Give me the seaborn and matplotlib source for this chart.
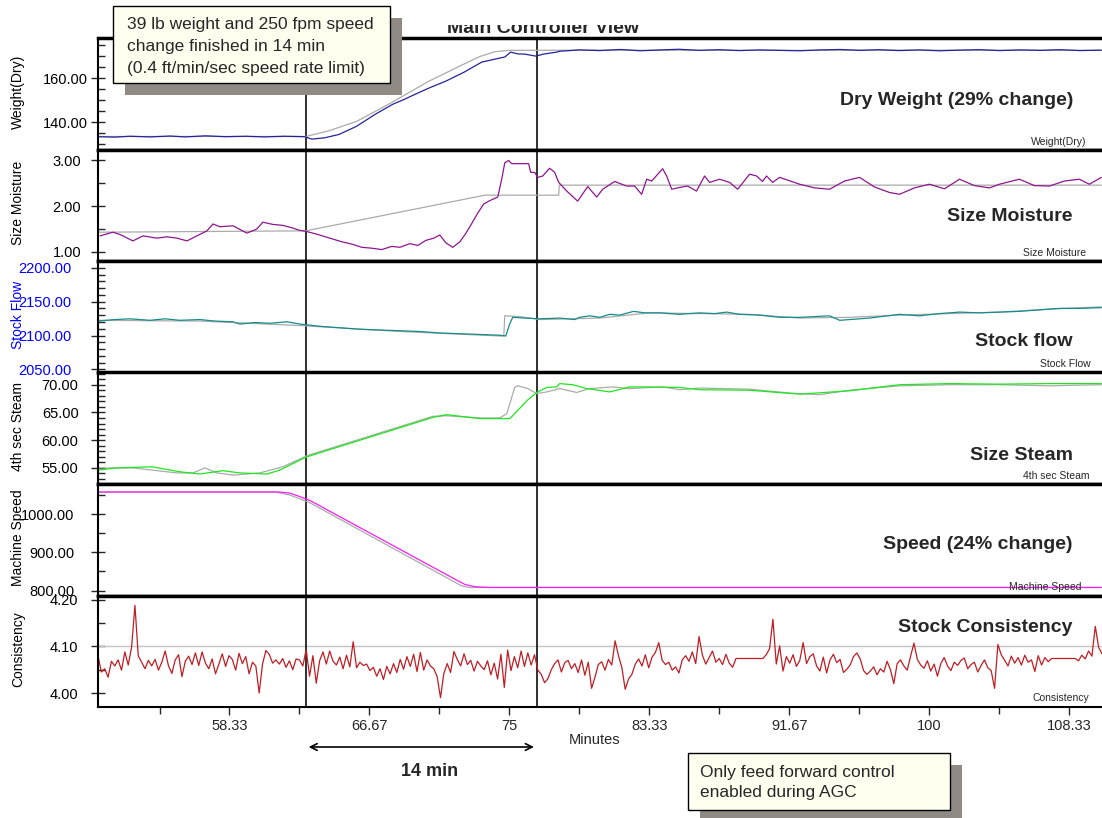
import numpy as np
import matplotlib
matplotlib.use("Agg")
import matplotlib.pyplot as plt
from matplotlib.patches import Rectangle
from matplotlib.ticker import FormatStrFormatter
from matplotlib.transforms import blended_transform_factory
import seaborn as sns

sns.set_style("white")
plt.rcParams['font.family'] = ['Liberation Sans', 'DejaVu Sans']

# ---------------- data (time in minutes) ----------------
weight_t = [50.5, 51.5, 52.4, 53.6, 54.8, 55.7, 56.9, 58.1, 59.3, 60.4, 61.6, 62.8, 63.24, 64.0,
            64.85, 65.9, 67.0, 68.06, 68.77, 69.13, 70.2, 71.2, 72.3, 73.36, 74.43, 74.73, 75.08,
            75.5, 75.92, 76.57, 77.1, 77.82, 78.0, 79.2, 80.4, 81.6, 82.8, 84.0, 85.1, 86.3, 87.5,
            88.7, 89.9, 91.1, 92.3, 93.5, 94.7, 95.9, 97.0, 98.2, 99.4, 100.6, 101.8, 103.0, 104.2,
            105.4, 106.6, 107.8, 109.0, 110.26]
weight_v = [133.5, 133.3, 133.7, 133.4, 133.8, 133.4, 133.9, 133.5, 133.7, 133.4, 133.7, 133.5, 132.4, 133.0,
            134.5, 138.2, 143.6, 148.2, 150.5, 151.8, 155.5, 158.6, 162.7, 167.3, 169.1, 169.6, 171.8,
            171.0, 170.9, 170.0, 171.0, 171.8, 172.2, 172.8, 172.5, 173.0, 172.4, 172.8, 173.1, 172.6, 172.9,
            172.5, 172.8, 172.6, 172.4, 172.8, 173.0, 172.6, 172.9, 172.5, 172.8, 172.4, 172.7, 172.9, 172.5,
            172.8, 172.6, 172.9, 172.5, 172.7]
weight_sp_t = [50.5, 62.88, 64.31, 65.92, 67.88, 70.2, 72.05, 73.24, 74.13, 75.02, 80.0, 90.0, 100.0, 110.26]
weight_sp_v = [133.6, 133.6, 136.3, 140.5, 148.5, 158.6, 165.5, 169.8, 172.0, 172.6, 172.7, 172.6, 172.7, 172.6]

moist_t = [50.62, 51.39, 51.81, 52.58, 53.18, 54.01, 54.61, 55.2, 55.8, 56.39, 56.99, 57.35, 57.76, 58.54,
           59.37, 59.96, 60.32, 60.92, 61.51, 62.11, 62.52, 62.88, 63.6, 64.31, 65.02, 65.62, 66.21, 66.81,
           67.4, 68.0, 68.48, 69.07, 69.55, 70.02, 70.5, 70.86, 71.21, 71.63, 72.05, 72.4, 72.76, 73.12,
           73.48, 73.83, 74.31, 74.55, 74.73, 74.96, 75.14, 76.15, 76.27, 76.51, 76.69, 76.99, 77.40, 77.70,
           77.94, 78.42, 79.07, 79.67, 80.20, 80.56, 81.27, 81.99, 82.46, 82.88, 83.18, 83.48, 84.13, 84.37,
           84.67, 85.14, 85.62, 86.15, 86.63, 86.93, 87.52, 88.12, 88.60, 89.31, 89.73, 90.08, 90.32, 90.68,
           91.10, 92.29, 93.18, 94.07, 94.96, 95.86, 96.75, 97.64, 98.24, 99.13, 100.02, 100.92, 101.81,
           102.70, 103.60, 104.19, 105.38, 106.27, 107.17, 108.06, 108.95, 109.55, 110.26]
moist_v = [1.35, 1.43, 1.38, 1.24, 1.35, 1.30, 1.33, 1.30, 1.24, 1.35, 1.46, 1.61, 1.55, 1.57,
           1.41, 1.50, 1.65, 1.60, 1.58, 1.52, 1.47, 1.45, 1.38, 1.30, 1.22, 1.17, 1.10, 1.08,
           1.05, 1.12, 1.10, 1.18, 1.14, 1.25, 1.30, 1.37, 1.20, 1.10, 1.22, 1.40, 1.62, 1.85,
           2.05, 2.12, 2.20, 2.60, 2.95, 3.00, 2.93, 2.93, 2.74, 2.74, 2.63, 2.66, 2.83, 2.74,
           2.52, 2.33, 2.11, 2.43, 2.20, 2.37, 2.54, 2.44, 2.44, 2.26, 2.59, 2.55, 2.82, 2.66,
           2.37, 2.41, 2.44, 2.33, 2.66, 2.52, 2.59, 2.52, 2.37, 2.70, 2.66, 2.54, 2.66, 2.52,
           2.63, 2.48, 2.40, 2.37, 2.55, 2.63, 2.42, 2.30, 2.26, 2.40, 2.48, 2.38, 2.59,
           2.45, 2.40, 2.48, 2.59, 2.45, 2.44, 2.55, 2.59, 2.48, 2.63]
moist_sp_t = [50.5, 62.88, 73.54, 77.94, 77.97, 110.26]
moist_sp_v = [1.43, 1.46, 2.24, 2.24, 2.46, 2.46]

flow_t = [50.5, 51.51, 52.4, 53.6, 54.49, 55.38, 56.57, 57.46, 58.54, 58.95, 59.85, 60.74, 61.75, 62.52,
          63.71, 64.9, 66.1, 67.29, 68.48, 69.67, 70.86, 72.05, 73.24, 74.43, 74.79, 75.02, 75.2, 75.92,
          76.81, 78.0, 78.89, 79.19, 79.79, 80.38, 80.98, 81.57, 82.4, 83.06, 83.95, 85.14, 86.33, 87.23,
          87.94, 88.71, 89.9, 91.1, 92.29, 94.07, 94.67, 96.45, 98.24, 99.43, 100.62, 101.81, 103.0,
          104.19, 105.38, 106.57, 107.76, 108.95, 110.26]
flow_v = [2121.4, 2123.6, 2124.7, 2122.5, 2124.7, 2122.5, 2123.6, 2121.4, 2120.3, 2117.0, 2119.2, 2118.1, 2120.3, 2117.0,
          2113.7, 2111.5, 2109.3, 2108.2, 2107.1, 2106.0, 2103.8, 2102.7, 2101.6, 2100.5, 2099.4, 2117.0, 2126.9, 2125.8,
          2124.7, 2125.8, 2123.6, 2126.9, 2129.1, 2126.9, 2131.3, 2130.2, 2135.7, 2133.5, 2133.5, 2131.3, 2133.5, 2132.4,
          2134.6, 2131.3, 2130.2, 2126.9, 2126.9, 2129.1, 2122.5, 2125.8, 2131.3, 2129.1, 2132.4, 2134.6, 2133.5,
          2134.6, 2135.7, 2137.9, 2140.1, 2140.1, 2141.2]
flow_sp_t = [50.5, 56.57, 62.52, 68.48, 74.43, 74.67, 74.73, 75.62, 76.81, 80.38, 83.36, 86.33, 89.31,
             92.29, 95.26, 98.24, 101.21, 104.19, 107.17, 110.26]
flow_sp_v = [2122.5, 2121.4, 2114.8, 2106.0, 2099.4, 2099.4, 2129.1, 2128.0, 2123.6, 2125.8, 2133.5, 2132.4, 2131.3,
             2125.8, 2126.9, 2130.2, 2132.4, 2134.6, 2139.0, 2142.3]

steam_t = [50.5, 51.63, 53.71, 55.38, 56.57, 57.94, 58.95, 60.56, 61.33, 62.52, 62.94, 70.44, 71.27,
           73.24, 75.02, 75.2, 76.04, 76.63, 77.23, 77.82, 78.0, 78.77, 79.61, 80.98, 82.17, 83.18,
           85.14, 86.33, 89.31, 92.29, 95.26, 98.24, 101.21, 104.19, 107.17, 110.26]
steam_v = [54.6, 55.0, 55.2, 54.3, 53.9, 54.5, 54.1, 53.9, 54.6, 56.4, 57.0, 64.1, 64.6,
           63.9, 63.9, 64.4, 67.1, 68.6, 69.5, 69.6, 70.2, 70.0, 69.3, 68.7, 69.6, 69.6,
           69.5, 69.1, 69.0, 68.3, 68.9, 70.0, 70.2, 70.1, 70.2, 70.2]
steam_sp_t = [50.5, 52.58, 55.2, 56.15, 56.87, 57.58, 58.54, 60.14, 61.51, 62.52, 62.94, 70.44, 71.27,
              73.24, 74.43, 74.85, 75.32, 75.5, 76.1, 76.63, 77.23, 78.0, 79.01, 79.79, 81.15, 82.17,
              84.13, 85.14, 86.33, 89.31, 91.69, 93.48, 95.26, 98.24, 101.21, 104.19, 107.17, 110.26]
steam_sp_v = [55.0, 55.0, 54.1, 54.1, 55.0, 54.1, 53.7, 54.1, 55.2, 56.6, 57.2, 64.3, 64.4,
              64.0, 64.0, 64.8, 69.5, 69.8, 69.3, 68.4, 68.7, 69.3, 68.6, 69.3, 69.6, 69.3,
              69.6, 69.1, 69.4, 69.2, 68.5, 68.2, 69.0, 69.8, 70.0, 70.0, 69.8, 70.0]

speed_t = [50.5, 61.33, 61.93, 62.52, 63.12, 71.75, 72.35, 72.94, 73.83, 110.26]
speed_v = [1058, 1058, 1055, 1046, 1036, 830, 816, 810, 808, 808]
speed_sp_t = [50.5, 61.04, 61.93, 62.52, 63.12, 71.75, 72.17, 72.64, 110.26]
speed_sp_v = [1058, 1058, 1050, 1040, 1030, 822, 812, 808, 808]

# consistency is logged every 12 s from 50.5 min
cons_v = [
    4.080, 4.045, 4.052, 4.034, 4.068, 4.058, 4.071, 4.049, 4.088, 4.060, 4.098, 4.188, 4.079, 4.066, 4.052, 4.070, 4.058, 4.072, 4.049, 4.066,
    4.090, 4.058, 4.042, 4.071, 4.082, 4.035, 4.068, 4.079, 4.061, 4.086, 4.059, 4.088, 4.064, 4.052, 4.073, 4.041, 4.062, 4.084, 4.057, 4.080,
    4.072, 4.049, 4.085, 4.063, 4.078, 4.041, 4.066, 4.058, 4.000, 4.062, 4.091, 4.083, 4.064, 4.071, 4.062, 4.074, 4.055, 4.069, 4.050, 4.073,
    4.071, 4.058, 4.093, 4.036, 4.080, 4.021, 4.069, 4.088, 4.062, 4.090, 4.068, 4.060, 4.077, 4.052, 4.081, 4.056, 4.110, 4.054, 4.066, 4.059,
    4.062, 4.048, 4.055, 4.036, 4.052, 4.029, 4.057, 4.041, 4.063, 4.044, 4.072, 4.051, 4.078, 4.057, 4.083, 4.046, 4.087, 4.049, 4.071, 4.058,
    4.052, 4.035, 3.990, 4.042, 4.063, 4.044, 4.089, 4.072, 4.058, 4.084, 4.061, 4.070, 4.047, 4.068, 4.058, 4.050, 4.069, 4.039, 4.064, 4.030,
    4.083, 4.012, 4.092, 4.048, 4.078, 4.054, 4.090, 4.057, 4.086, 4.060, 4.082, 4.049, 4.040, 4.022, 4.031, 4.050, 4.063, 4.071, 4.045, 4.065,
    4.070, 4.052, 4.063, 4.044, 4.071, 4.038, 4.066, 4.010, 4.034, 4.061, 4.067, 4.049, 4.072, 4.060, 4.112, 4.080, 4.055, 4.008, 4.030, 4.040,
    4.062, 4.073, 4.058, 4.082, 4.054, 4.077, 4.087, 4.108, 4.070, 4.061, 4.066, 4.049, 4.056, 4.043, 4.071, 4.080, 4.068, 4.088, 4.063, 4.121,
    4.081, 4.062, 4.076, 4.090, 4.066, 4.074, 4.061, 4.083, 4.064, 4.055, 4.074, 4.074, 4.074, 4.074, 4.074, 4.074, 4.074, 4.074, 4.074, 4.082,
    4.095, 4.158, 4.062, 4.101, 4.047, 4.078, 4.064, 4.082, 4.057, 4.070, 4.108, 4.063, 4.078, 4.084, 4.058, 4.047, 4.077, 4.043, 4.071, 4.083,
    4.065, 4.072, 4.044, 4.051, 4.060, 4.078, 4.086, 4.073, 4.048, 4.040, 4.047, 4.056, 4.039, 4.052, 4.045, 4.068, 4.050, 4.020, 4.063, 4.071,
    4.058, 4.049, 4.079, 4.107, 4.072, 4.060, 4.053, 4.069, 4.047, 4.062, 4.036, 4.063, 4.076, 4.058, 4.048, 4.066, 4.059, 4.070, 4.075, 4.052,
    4.061, 4.066, 4.045, 4.059, 4.071, 4.054, 4.048, 4.010, 4.104, 4.082, 4.070, 4.058, 4.079, 4.064, 4.076, 4.060, 4.081, 4.066, 4.071, 4.046,
    4.080, 4.060, 4.076, 4.067, 4.074, 4.074, 4.074, 4.074, 4.074, 4.074, 4.074, 4.074, 4.069, 4.081, 4.073, 4.090, 4.079, 4.143, 4.098, 4.084,
]
cons_t = np.round(50.5 + 0.2 * np.arange(len(cons_v)), 2)
cons_target = 4.10

agc_start, agc_end = 62.88, 76.63

x_major = [58.33, 66.67, 75, 83.33, 91.67, 100, 108.33]
x_labels = ["58.33", "66.67", "75", "83.33", "91.67", "100", "108.33"]
x_minor = [54.17, 62.5, 70.83, 79.17, 87.5, 95.83, 104.17]

GRAY = "#ABABAB"
panels = [
    dict(ylabel="Weight(Dry)", title="Dry Weight (29% change)", tag="Weight(Dry)",
         ylim=(127.7, 178.2), major=[140, 160], minor=[130, 135, 145, 150, 155, 165, 170, 175],
         series=[(weight_sp_t, weight_sp_v, GRAY), (weight_t, weight_v, "#24249C")],
         ty=0.435, tagy=0.067, tagx=0.985, pad=2),
    dict(ylabel="Size Moisture", title="Size Moisture", tag="Size Moisture",
         ylim=(0.80, 3.24), major=[1, 2, 3], minor=[1.5, 2.5],
         series=[(moist_sp_t, moist_sp_v, GRAY), (moist_t, moist_v, "#8E168E")],
         ty=0.395, tagy=0.072, tagx=0.984, pad=7),
    dict(ylabel="Stock Flow", title="Stock flow", tag="Stock Flow",
         ylim=(2045.5, 2210), major=[2050, 2100, 2150, 2200],
         minor=[2060, 2070, 2080, 2090, 2110, 2120, 2130, 2140, 2160, 2170, 2180, 2190, 2210],
         series=[(flow_sp_t, flow_sp_v, GRAY), (flow_t, flow_v, "#178A8A")],
         ty=0.274, tagy=0.076, tagx=0.989, color="#0000FF", pad=14),
    dict(ylabel="4th sec Steam", title="Size Steam", tag="4th sec Steam",
         ylim=(52.1, 72.2), major=[55, 60, 65, 70],
         minor=[53, 54, 56, 57, 58, 59, 61, 62, 63, 64, 66, 67, 68, 69, 71, 72],
         series=[(steam_sp_t, steam_sp_v, GRAY), (steam_t, steam_v, "#1EE61E")],
         ty=0.26, tagy=0.072, tagx=0.988, pad=9),
    dict(ylabel="Machine Speed", title="Speed (24% change)", tag="Machine Speed",
         ylim=(787, 1079), major=[800, 900, 1000], minor=[850, 950, 1050],
         series=[(speed_sp_t, speed_sp_v, GRAY), (speed_t, speed_v, "#F21EF2")],
         ty=0.453, tagy=0.076, tagx=0.980, pad=12),
    dict(ylabel="Consistency", title="Stock Consistency", tag="Consistency",
         ylim=(3.97, 4.209), major=[4.0, 4.1, 4.2], minor=[4.05, 4.15],
         series=[(cons_t, cons_v, "#BE1E24")],
         ty=0.709, tagy=0.081, tagx=0.987, pad=9),
]

# ---------------- layout helpers ----------------
FW, FH = 1102, 818
fig = plt.figure(figsize=(FW / 100, FH / 100), dpi=100)


def fx(px):
    return px / FW


def fy(py):
    return 1 - py / FH


LEFT, RIGHT, TOP, BOTTOM = 98, 1102, 38, 707
ph = (BOTTOM - TOP) / len(panels)
axes = []

for i, p in enumerate(panels):
    top = TOP + i * ph
    ax = fig.add_axes([fx(LEFT), fy(top + ph), fx(RIGHT) - fx(LEFT), ph / FH])
    axes.append(ax)
    col = p.get("color", "black")

    if p["tag"] == "Consistency":
        ax.axhline(cons_target, color="#C4C4C4", lw=1.0, zorder=1)
    for t, v, c in p["series"]:
        sns.lineplot(x=t, y=v, ax=ax, color=c, linewidth=0.9, estimator=None, legend=False)
    for tv in (agc_start, agc_end):
        ax.axvline(tv, color="#202020", lw=1.3, zorder=1.5)

    ax.set_xlim(50.5, 110.3)
    ax.set_ylim(*p["ylim"])
    ax.set_xlabel("")
    ax.set_ylabel("")
    ax.set_yticks(p["major"])
    ax.set_yticks(p["minor"], minor=True)
    ax.yaxis.set_major_formatter(FormatStrFormatter("%.2f"))
    ax.tick_params(axis="y", which="major", direction="inout", length=10, width=1,
                   labelsize=10.5, pad=p["pad"], labelcolor=col, left=True)
    ax.tick_params(axis="y", which="minor", direction="in", length=5, width=1, left=True)

    for s in ("top", "bottom"):
        ax.spines[s].set_linewidth(2.5)
        ax.spines[s].set_color("black")
    ax.spines["left"].set_linewidth(1.5)
    ax.spines["left"].set_color("black")
    ax.spines["right"].set_visible(False)

    if i < len(panels) - 1:
        ax.set_xticks([])
        ax.tick_params(axis="x", which="both", bottom=False, labelbottom=False)
    else:
        ax.spines["bottom"].set_linewidth(1.5)
        ax.set_xticks(x_major)
        ax.set_xticklabels(x_labels)
        ax.set_xticks(x_minor, minor=True)
        ax.tick_params(axis="x", which="major", direction="out", length=6, width=1,
                       labelsize=10.5, pad=3, bottom=True)
        ax.tick_params(axis="x", which="minor", direction="out", length=5, width=1, bottom=True)

    ax.text(0.971, p["ty"], p["title"], transform=ax.transAxes, ha="right", va="center",
            fontsize=14, fontweight="bold")
    ax.text(p["tagx"], p["tagy"], p["tag"], transform=ax.transAxes, ha="right", va="center",
            fontsize=7.5)
    fig.text(fx(18), fy(top + ph / 2 - 2), p["ylabel"], rotation=90, ha="center", va="center",
             fontsize=10, color=col, zorder=4)

# axis caption
fig.text(fx(595), fy(740), "Minutes", ha="center", va="center", fontsize=10.5)

# header, partly hidden
fig.text(fx(543), fy(33), "Main Controller View", ha="center", va="baseline",
         fontsize=14, fontweight="bold", zorder=2)
fig.add_artist(Rectangle((fx(380), fy(25)), fx(330), 25 / FH, transform=fig.transFigure,
                         facecolor="white", edgecolor="none", zorder=2.5))


def note_box(x0, y0, x1, y1, lines, line_y, tx):
    fig.add_artist(Rectangle((fx(x0 + 12), fy(y1 + 12)), fx(x1 - x0), (y1 - y0) / FH,
                             transform=fig.transFigure, facecolor="#8F8A84", edgecolor="none",
                             zorder=5))
    fig.add_artist(Rectangle((fx(x0), fy(y1)), fx(x1 - x0), (y1 - y0) / FH,
                             transform=fig.transFigure, facecolor="#FFFFF0", edgecolor="black",
                             lw=1.0, zorder=6))
    for txt, ly in zip(lines, line_y):
        fig.text(fx(tx), fy(ly), txt, ha="left", va="center", fontsize=12.5, zorder=7)


note_box(113, 6, 390, 83,
         ["39 lb weight and 250 fpm speed", "change finished in 14 min",
          "(0.4 ft/min/sec speed rate limit)"],
         [24, 46, 68], 127)
note_box(688, 753, 950, 810,
         ["Only feed forward control", "enabled during AGC"],
         [772, 793], 700)

# duration marker
bt = blended_transform_factory(axes[-1].transData, fig.transFigure)
axes[-1].annotate("", xy=(agc_end, fy(747)), xytext=(agc_start, fy(747)), xycoords=bt,
                  textcoords=bt, annotation_clip=False,
                  arrowprops=dict(arrowstyle="<->", lw=1.2, color="black", mutation_scale=12))
fig.text(fx(430), fy(772), "14 min", ha="center", va="center", fontsize=13, fontweight="bold")

fig.savefig("out.png", dpi=100)
